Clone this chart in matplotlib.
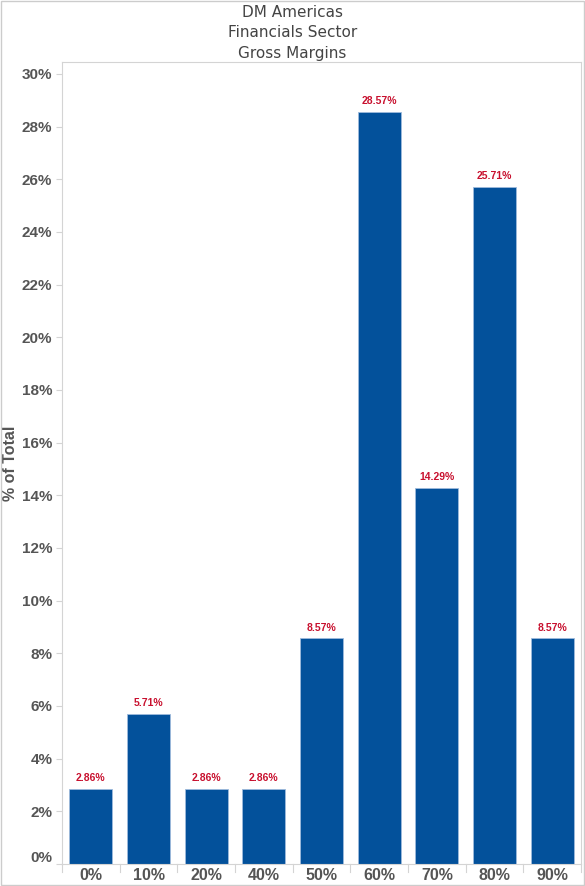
#=========================================================================
# gross-margins-histogram
#=========================================================================

import matplotlib.pyplot as plt
import matplotlib.transforms as mtransforms
import numpy as np

#-------------------------------------------------------------------------
# Configure matplotlib
#-------------------------------------------------------------------------

plt.rcParams['font.family'] = ['Liberation Sans', 'DejaVu Sans']
plt.rcParams['figure.figsize'] = [ 5.85, 8.86 ]
plt.rcParams['figure.dpi'] = 100

#-------------------------------------------------------------------------
# Raw data
#-------------------------------------------------------------------------

categories = [ '0%', '10%', '20%', '40%', '50%', '60%', '70%', '80%', '90%' ]

pct_of_total = [ 2.86, 5.71, 2.86, 2.86, 8.57, 28.57, 14.29, 25.71, 8.57 ]

y_ticks = np.arange( 0, 31, 2 )

#-------------------------------------------------------------------------
# Plot parameters
#-------------------------------------------------------------------------

bar_color   = '#03519b'
label_color = '#c8102e'
text_color  = '#555555'
line_color  = '#d4d4d4'

ind   = np.arange( len( categories ) )
width = 0.75

#-------------------------------------------------------------------------
# Create plot
#-------------------------------------------------------------------------

fig = plt.figure()
ax  = fig.add_axes( [ 62/585, 1 - 864/886, (581-62)/585, (864-62)/886 ] )

bars = ax.bar( ind, pct_of_total, width, color=bar_color,
               edgecolor='#9fbbdc', linewidth=0.6 )

for rect, val in zip( bars, pct_of_total ):
  ax.annotate( '%.2f%%' % val,
               ( rect.get_x() + rect.get_width()/2, rect.get_height() ),
               xytext=( 0, 4 ), textcoords='offset points',
               ha='center', va='bottom', fontsize=7.5,
               fontweight='bold', color=label_color )

# Axes limits and ticks

ax.set_xlim( -0.5, len( categories ) - 0.5 )
ax.set_ylim( 0, 30.45 )

ax.set_yticks( y_ticks )
ax.set_yticklabels( [ '%d%%' % t for t in y_ticks ], fontsize=11,
                    fontweight='bold', color=text_color )
ax.set_xticks( ind )
ax.set_xticklabels( categories, fontsize=11.5, fontweight='bold',
                    color=text_color )
ax.tick_params( axis='x', length=0, pad=3 )
ax.tick_params( axis='y', length=4, width=0.8, color=line_color, pad=3 )

# Nudge the 0% label up so it stays inside the pane, like the original

zero_label = ax.get_yticklabels()[0]
zero_label.set_transform( zero_label.get_transform() +
  mtransforms.ScaledTranslation( 0, 7/100, fig.dpi_scale_trans ) )

# Category separators under the axis

for b in np.arange( -0.5, len( categories ), 1.0 ):
  ax.plot( [ b, b ], [ 0, -0.3 ], color=line_color, linewidth=0.8,
           clip_on=False )

ax.set_ylabel( '% of Total', fontsize=11.5, fontweight='bold',
               color=text_color, labelpad=3 )

for spine in ax.spines.values():
  spine.set_color( line_color )
  spine.set_linewidth( 0.8 )

# Title

fig.text( 0.5, 1 - 5/886, 'DM Americas\nFinancials Sector\nGross Margins',
          ha='center', va='top', fontsize=11, color='#444444',
          family=[ 'DejaVu Sans' ], linespacing=1.45 )

# Outer frame

fig.patches.append( plt.Rectangle( ( 0.001, 0.001 ), 0.998, 0.998,
                                   transform=fig.transFigure, fill=False,
                                   edgecolor='#cccccc', linewidth=1 ) )

#-------------------------------------------------------------------------
# Save
#-------------------------------------------------------------------------

plt.savefig( 'out.png', dpi=100 )
